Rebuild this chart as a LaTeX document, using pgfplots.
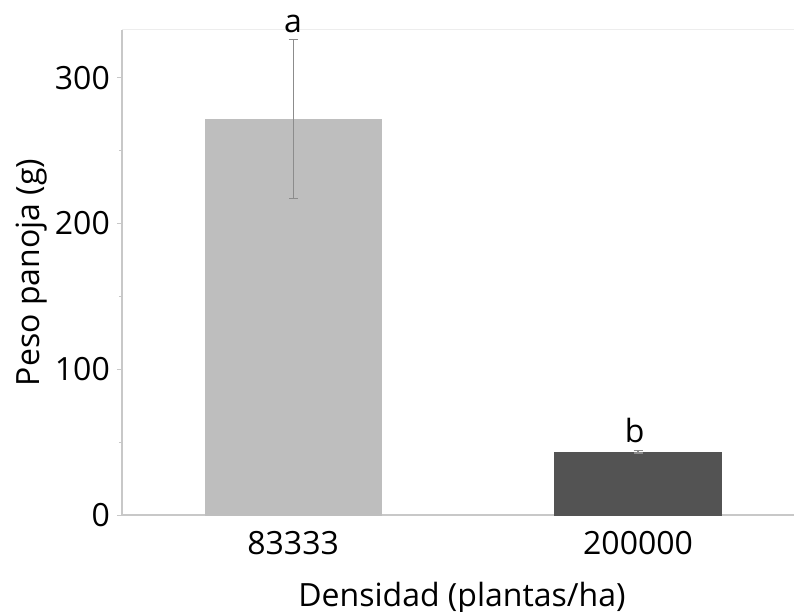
\documentclass[border=0pt]{standalone}
\usepackage{fontspec}
\setmainfont{Open Sans}
\usepackage{pgfplots}
\pgfplotsset{compat=1.18}
\definecolor{barlight}{HTML}{BEBEBE}
\definecolor{bardark}{HTML}{535353}
\definecolor{axisgray}{HTML}{C8C8C8}
\definecolor{errgray}{HTML}{8C8C8C}
\begin{document}
\fontsize{32}{38}\selectfont
\begin{tikzpicture}
\begin{axis}[
  scale only axis, width=672pt, height=485pt,
  at={(0,0)}, anchor=south west,
  xmin=-0.496, xmax=1.452, ymin=0, ymax=332.7,
  clip=false,
  axis x line*=bottom, axis y line*=left,
  axis line style={draw=axisgray, line width=1.3pt, -},
  xtick={0,1}, xticklabels={83333,200000},
  x tick style={draw=none},
  ytick={0,100,200,300}, minor ytick={50,150,250},
  y tick style={draw=axisgray, line width=1pt},
  tick align=outside, major tick length=5pt, minor tick length=3pt,
  /pgf/number format/assume math mode=true,
  yticklabel style={anchor=east, inner sep=0pt, xshift=-7pt},
  xticklabel style={anchor=base, inner sep=0pt, yshift=-34pt},
  xlabel={Densidad (plantas/ha)},
  ylabel={Peso panoja (g)},
  xlabel style={at={(axis description cs:0.5,0)}, anchor=base, inner sep=0pt, yshift=-91pt, xshift=4pt},
  ylabel style={at={(axis description cs:0,0.5)}, anchor=base, inner sep=0pt, yshift=82pt},
]
\addplot[ybar, bar shift=0pt, bar width=176pt, fill=barlight, draw=barlight,
  error bars/.cd, y dir=both, y explicit,
  error bar style={draw=errgray, line width=1.2pt},
  error mark options={rotate=90, mark size=4.5pt, draw=errgray, line width=1.2pt}]
  coordinates {(0,271.7) +- (0,54.5)};
\addplot[ybar, bar shift=0pt, bar width=167pt, fill=bardark, draw=bardark,
  error bars/.cd, y dir=both, y explicit,
  error bar style={draw=errgray, line width=1.2pt},
  error mark options={rotate=90, mark size=4.5pt, draw=errgray, line width=1.2pt}]
  coordinates {(1,43.4) +- (0,0.8)};
\draw[black!7, line width=1pt] (rel axis cs:0,1) -- (rel axis cs:1,1);
\node[anchor=base, inner sep=0pt] at (axis cs:0,331.3) {a};
\node[anchor=base, inner sep=0pt] at (axis cs:0.99,49.4) {b};
\end{axis}
\pgfresetboundingbox
\useasboundingbox (-122pt,-96pt) rectangle (672pt,515pt);
\end{tikzpicture}
\end{document}
